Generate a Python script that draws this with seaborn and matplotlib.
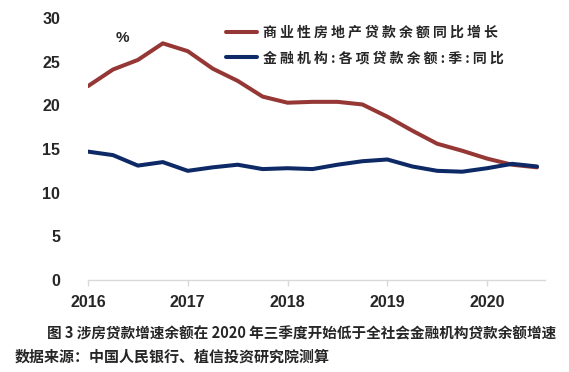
import pandas as pd
import matplotlib
matplotlib.use("Agg")
import matplotlib.pyplot as plt
import seaborn as sns

# Daten (Quartale 2016Q1 - 2020Q3)
quarters = ['2016Q1', '2016Q2', '2016Q3', '2016Q4',
            '2017Q1', '2017Q2', '2017Q3', '2017Q4',
            '2018Q1', '2018Q2', '2018Q3', '2018Q4',
            '2019Q1', '2019Q2', '2019Q3', '2019Q4',
            '2020Q1', '2020Q2', '2020Q3']
property_loans = [22.2, 24.1, 25.2, 27.1, 26.2, 24.2, 22.8, 21.0, 20.3, 20.4,
                  20.4, 20.1, 18.7, 17.1, 15.6, 14.8, 13.9, 13.2, 12.9]
all_loans = [14.7, 14.3, 13.1, 13.5, 12.5, 12.9, 13.2, 12.7, 12.8, 12.7,
             13.2, 13.6, 13.8, 13.0, 12.5, 12.4, 12.8, 13.3, 13.0]
series_names = ['商业性房地产贷款余额同比增长', '金融机构:各项贷款余额:季:同比']
colors = ['#953735', '#0D2A66']
year_ticks = [2016, 2017, 2018, 2019, 2020]
caption = '图 3 涉房贷款增速余额在 2020 年三季度开始低于全社会金融机构贷款余额增速'
source = '数据来源：中国人民银行、植信投资研究院测算'

sns.set_theme(style="white")
plt.rcParams['font.family'] = ['Liberation Sans', 'Noto Sans CJK SC']
plt.rcParams['font.weight'] = 'bold'

def to_year(q):
    return int(q[:4]) + (int(q[-1]) - 1) * 0.25

df = pd.DataFrame({
    'x': [to_year(q) for q in quarters] * 2,
    'value': property_loans + all_loans,
    'series': [series_names[0]] * len(quarters) + [series_names[1]] * len(quarters),
})

fig = plt.figure(figsize=(5.69, 3.72), dpi=100)
ax = fig.add_axes([88 / 569, 1 - 280 / 372, (545 - 88) / 569, (280 - 18) / 372])

sns.lineplot(data=df, x='x', y='value', hue='series', palette=colors,
             linewidth=2.9, ax=ax, legend=False)

ax.set_xlim(2016, 2020.58)
ax.set_ylim(0, 30)
ax.set_xticks(year_ticks)
ax.set_xticklabels([str(y) for y in year_ticks])
ax.set_yticks(range(0, 31, 5))
ax.set_xlabel('')
ax.set_ylabel('')

for s in ['top', 'right', 'left']:
    ax.spines[s].set_visible(False)
ax.spines['bottom'].set_color('#d9d9d9')
ax.spines['bottom'].set_linewidth(1.0)
ax.tick_params(axis='x', bottom=True, direction='out', length=4.5, width=1.0,
               color='#d9d9d9', pad=6, labelsize=11.5)
ax.tick_params(axis='y', left=False, pad=14, labelsize=11.5)
for lab in ax.get_xticklabels() + ax.get_yticklabels():
    lab.set_fontweight('bold')

fig.text(122 / 569, 1 - 38 / 372, '%', fontsize=11, fontweight='bold',
         ha='center', va='center')

handles = [plt.Line2D([], [], color=c, linewidth=2.9) for c in colors]
labels = [' '.join(n) for n in series_names]
fig.legend(handles, labels, loc='upper left',
           bbox_to_anchor=(213 / 569, 1 - 13 / 372), frameon=False,
           handlelength=2.3, handletextpad=0.4, labelspacing=0.85,
           prop={'family': ['Noto Sans CJK SC'], 'weight': 'bold', 'size': 10})

fig.text(302 / 569, 1 - 333 / 372, caption, ha='center', va='center',
         fontsize=10.5, fontweight='bold',
         family=['Noto Sans CJK SC', 'Liberation Sans'])
fig.text(15 / 569, 1 - 357 / 372, source, ha='left', va='center',
         fontsize=10.8, fontweight='bold',
         family=['Noto Sans CJK SC', 'Liberation Sans'])

fig.savefig('out.png', dpi=100)
